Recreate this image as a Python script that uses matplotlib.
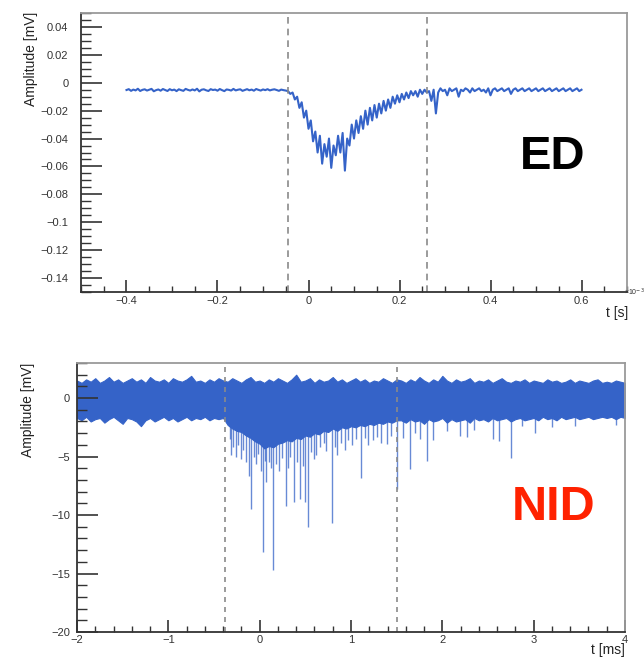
import numpy as np
import matplotlib
matplotlib.use("Agg")
import matplotlib.pyplot as plt
from matplotlib.ticker import MultipleLocator, FuncFormatter

plt.rcParams['font.family'] = ['Liberation Sans', 'DejaVu Sans']

# ---------------- ED waveform (top) ----------------
ed_pre_span = (-0.4, -0.05)
ed_pre = [-5.2,-4.6,-5.8,-4.9,-5.5,-4.3,-5.9,-5.1,-4.7,-5.6,-5.0,-4.4,-6.1,-5.3,-4.8,-5.7,-4.5,-5.2,-5.9,-4.6,
          -5.4,-4.9,-6.0,-4.7,-5.3,-5.8,-4.4,-5.1,-5.6,-4.8,-5.5,-4.3,-6.2,-5.0,-4.7,-5.4,-5.9,-4.6,-5.2,-4.9,
          -5.7,-4.5,-5.3,-6.0,-4.8,-5.1,-5.6,-4.4,-5.5,-5.0,-4.7,-5.8,-5.2,-4.6,-5.4,-4.9,-5.7,-4.5,-5.1,-5.6,
          -4.8,-5.3,-4.6,-5.5,-5.0,-4.7,-5.2,-5.8,-4.9,-5.3,-5.6]
ed_pulse_span = (-0.045, 0.26)
ed_pulse = [-6,-8,-7,-12,-10,-18,-14,-25,-20,-33,-27,-42,-35,-50,-38,-58,-44,-53,-40,-61,
            -45,-52,-38,-50,-36,-63,-40,-45,-30,-40,-27,-36,-24,-33,-20,-30,-18,-27,-16,-25,
            -15,-22,-13,-20,-12,-18,-10,-15,-9,-14,-8,-12,-7,-11,-6,-9,-6,-10,-5,-8,-5,-7]
ed_post_span = (0.265, 0.6)
ed_post = [-6,-13,-5,-22,-7,-4,-6,-5,-9,-4,-6,-5,-4,-10,-5,-6,-4,-5,-7,-4,
           -6,-5,-4,-6,-5,-7,-4,-9,-5,-4,-6,-5,-4,-6,-5,-4,-8,-5,-4,-6,
           -5,-4,-6,-5,-4,-6,-5,-4,-6,-5,-4,-6,-5,-4,-6,-5,-4,-6,-5,-4,
           -6,-5,-4,-6,-5,-4,-6,-5]
ed_unit = 1e-3  # values above are in units of 0.001 mV
ed_cuts = [-0.045, 0.26]

# ---------------- NID waveform (bottom) ----------------
nid_pre_span = (-2.0, -0.4)
nid_up_pre = [1.5,1.3,1.6,1.4,1.7,1.3,1.5,1.8,1.4,1.6,1.3,1.5,1.7,1.4,1.6,1.3,1.8,1.5,1.4,1.6,
              1.3,1.7,1.5,1.4,1.6,1.9,1.4,1.5,1.3,1.6,1.4,1.7,1.5]
nid_lo_pre = [-1.7,-1.9,-1.6,-2.0,-1.8,-1.7,-2.1,-1.8,-1.6,-1.9,-2.2,-1.7,-1.8,-2.0,-2.4,-1.9,-1.7,-2.0,-1.8,-1.6,
              -1.9,-1.7,-2.0,-1.8,-1.6,-1.9,-1.7,-1.8,-1.6,-1.9,-1.7,-1.8,-1.7]
nid_mid_span = (-0.35, 1.5)
nid_up_mid = [1.4,1.7,1.5,1.3,1.6,1.8,1.4,1.5,1.3,1.6,1.4,1.7,1.5,1.3,1.6,2.0,1.4,1.5,1.7,1.3,
              1.6,1.4,1.5,1.8,1.4,1.6,1.3,1.5,1.7,1.4,1.6,1.3,1.5,1.4,1.7,1.5,1.3,1.6]
nid_lo_mid = [-2.3,-2.6,-2.8,-2.9,-3.2,-3.4,-3.7,-3.9,-4.3,-4.1,-4.2,-3.9,-3.8,-3.6,-3.7,-3.4,-3.5,-3.2,-3.3,-3.0,
              -3.1,-2.8,-2.9,-2.6,-2.8,-2.5,-2.6,-2.4,-2.5,-2.3,-2.4,-2.2,-2.3,-2.1,-2.2,-2.0,-2.1,-1.9]
nid_post_span = (1.55, 4.0)
nid_up_post = [1.5,1.3,1.6,1.4,1.8,1.5,1.3,1.6,1.4,1.9,1.5,1.3,1.6,1.4,1.5,1.7,1.3,1.5,1.4,1.6,
               1.3,1.5,1.7,1.4,1.3,1.5,1.4,1.6,1.3,1.5,1.4,1.3,1.6,1.4,1.5,1.3,1.4,1.6,1.3,1.5,
               1.4,1.3,1.5,1.6,1.3,1.4,1.3,1.5,1.4,1.3]
nid_lo_post = [-1.9,-2.1,-1.8,-2.0,-1.9,-2.2,-1.8,-2.0,-1.9,-1.7,-2.1,-1.8,-2.0,-1.9,-1.8,-2.1,-1.7,-1.9,-1.8,-2.0,
               -1.7,-1.9,-1.8,-1.7,-2.0,-1.8,-1.7,-1.9,-1.8,-1.7,-1.9,-1.6,-1.8,-1.7,-1.9,-1.6,-1.8,-1.7,-1.6,-1.8,
               -1.7,-1.6,-1.8,-1.7,-1.6,-1.7,-1.6,-1.8,-1.6,-1.7]
nid_spike_t = [-0.33,-0.317,-0.29,-0.262,-0.235,-0.208,-0.18,-0.153,-0.117,-0.091,-0.06,-0.044,-0.02,0.011,0.04,
               0.06,0.073,0.10,0.12,0.146,0.175,0.21,0.24,0.284,0.31,0.335,0.375,0.41,0.44,0.47,0.50,0.528,
               0.56,0.59,0.62,0.66,0.70,0.73,0.787,0.82,0.85,0.89,0.93,0.97,1.01,1.05,1.11,1.15,1.19,1.24,
               1.28,1.33,1.39,1.44,1.505,1.57,1.65,1.70,1.76,1.83,1.90,2.05,2.19,2.27,2.35,2.56,2.615,2.75,
               2.87,3.02,3.2,3.45,3.9]
nid_spike_min = [-3.5,-4.9,-4.2,-5.0,-4.0,-5.2,-4.4,-5.5,-6.7,-9.5,-5.0,-5.6,-4.8,-6.2,-13.2,
                 -5.4,-7.2,-5.5,-6.0,-14.7,-5.6,-6.2,-5.1,-9.2,-6.0,-5.0,-8.9,-5.5,-8.6,-5.8,-8.9,-11.0,
                 -4.6,-5.2,-4.9,-4.2,-3.8,-4.5,-10.7,-4.2,-4.9,-3.8,-4.4,-3.6,-4.0,-3.5,-6.8,-3.4,-4.0,-3.6,
                 -3.3,-3.8,-3.9,-3.2,-7.8,-3.4,-6.1,-3.0,-3.5,-5.4,-3.6,-2.8,-3.2,-3.3,-2.7,-3.5,-3.7,-5.1,
                 -2.4,-3.0,-2.5,-2.4,-2.3]
nid_cuts = [-0.38, 1.5]

BLUE = '#3563c8'
AXC = '#333333'

fig = plt.figure(figsize=(6.44, 6.60), dpi=100)

def style(ax, xmaj, xmin, ymaj, ymin, xpad, ypad):
    ax.xaxis.set_major_locator(MultipleLocator(xmaj))
    ax.xaxis.set_minor_locator(MultipleLocator(xmin))
    ax.yaxis.set_major_locator(MultipleLocator(ymaj))
    ax.yaxis.set_minor_locator(MultipleLocator(ymin))
    ax.tick_params(axis='y', which='major', direction='in', length=15, width=1.2, color=AXC,
                   labelsize=8, labelcolor=AXC, pad=ypad)
    ax.tick_params(axis='y', which='minor', direction='in', length=7, width=1.0, color=AXC)
    ax.tick_params(axis='x', which='major', direction='in', length=9, width=1.2, color=AXC,
                   labelsize=8, labelcolor=AXC, pad=xpad)
    ax.tick_params(axis='x', which='minor', direction='in', length=4.5, width=1.0, color=AXC)
    for s in ('left', 'bottom'):
        ax.spines[s].set_color(AXC)
        ax.spines[s].set_linewidth(1.3)
    for s in ('top', 'right'):
        ax.spines[s].set_color('#9a9a9a')
        ax.spines[s].set_linewidth(1.3)

def fmt(v, pos):
    s = '%g' % round(v, 6)
    if s in ('-0',):
        s = '0'
    return s.replace('-', '\u2212')

# ---- Top panel ----
ax1 = fig.add_axes([81/644, 1-292/660, (627-81)/644, (292-13)/660])
t_pre = np.linspace(*ed_pre_span, len(ed_pre))
t_pulse = np.linspace(*ed_pulse_span, len(ed_pulse))
t_post = np.linspace(*ed_post_span, len(ed_post))
ed_t = np.concatenate([t_pre, t_pulse, t_post])
ed_v = np.concatenate([ed_pre, ed_pulse, ed_post]) * ed_unit
ax1.plot(ed_t, ed_v, color=BLUE, lw=1.5)
for c in ed_cuts:
    ax1.axvline(c, color='#8a8a8a', ls=(0, (4, 3)), lw=1.2)
ax1.set_xlim(-0.5, 0.7)
ax1.set_ylim(-0.15, 0.05)
style(ax1, 0.2, 0.05, 0.02, 0.005, 3, 9)
ax1.xaxis.set_major_formatter(FuncFormatter(fmt))
ax1.yaxis.set_major_formatter(FuncFormatter(fmt))
fig.text(624.5/644, 1-292/660, '\u00d710$^{-3}$', fontsize=5, color=AXC, ha='left', va='center')
fig.text(628/644, 1-313/660, 't [s]', ha='right', va='center', fontsize=10, color='#222222')
fig.text(31/644, 1-12/660, 'Amplitude [mV]', rotation=90, ha='center', va='top', fontsize=10,
         color='#222222')
fig.text(553/644, 1-157/660, 'ED', fontsize=34, fontweight='bold', color='black',
         ha='center', va='center')

# ---- Bottom panel ----
ax2 = fig.add_axes([77/644, 1-632/660, (625-77)/644, (632-363)/660])
segs = [(nid_pre_span, nid_up_pre, nid_lo_pre), (nid_mid_span, nid_up_mid, nid_lo_mid),
        (nid_post_span, nid_up_post, nid_lo_post)]
ts, ups, los = [], [], []
for span, up, lo in segs:
    ts.append(np.linspace(*span, len(up)))
    ups.append(up)
    los.append(lo)
nid_t = np.concatenate(ts)
nid_up = np.concatenate(ups)
nid_lo = np.concatenate(los)
ax2.vlines(nid_spike_t, -1.5, nid_spike_min, color=BLUE, lw=1.0, alpha=0.75)
ax2.fill_between(nid_t, nid_lo, nid_up, color=BLUE, lw=0.8, edgecolor=BLUE)
for c in nid_cuts:
    ax2.axvline(c, color='#8a8a8a', ls=(0, (3, 3)), lw=1.2)
ax2.set_xlim(-2, 4)
ax2.set_ylim(-20, 3)
style(ax2, 1, 0.2, 5, 1, 2, 5)
ax2.xaxis.set_major_formatter(FuncFormatter(fmt))
ax2.yaxis.set_major_formatter(FuncFormatter(fmt))
fig.text(625/644, 1-650/660, 't [ms]', ha='right', va='center', fontsize=10, color='#222222')
fig.text(28/644, 1-363/660, 'Amplitude [mV]', rotation=90, ha='center', va='top', fontsize=10,
         color='#222222')
fig.text(554/644, 1-508/660, 'NID', fontsize=35, fontweight='bold', color='#ff2200',
         ha='center', va='center')

fig.savefig('out.png', dpi=100)
